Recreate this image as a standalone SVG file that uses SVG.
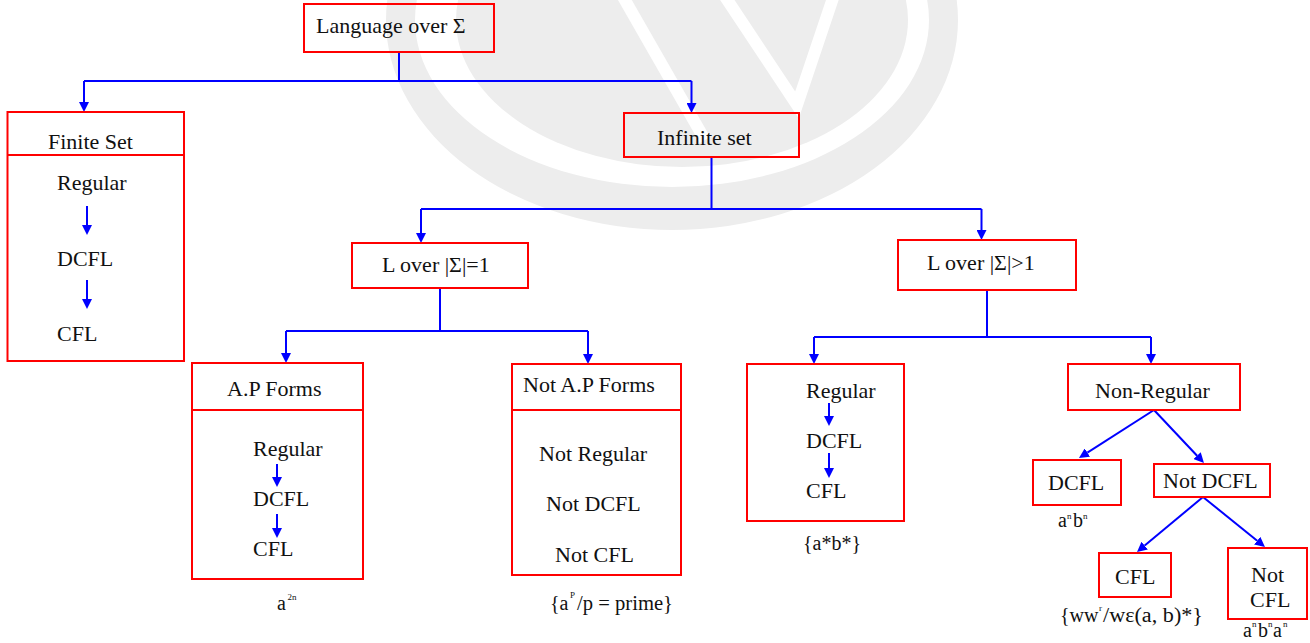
<svg xmlns="http://www.w3.org/2000/svg" width="1310" height="643" viewBox="0 0 1310 643">
  <defs>
    <style>
      .box { fill: none; stroke: #ff0000; stroke-width: 2; }
      text { fill: #111; }
      .s { font-size: 20px; }
      .sup { font-size: 9px; }
      .wire { fill: none; stroke: #0000ff; stroke-width: 2; }
      .arr { fill: none; stroke: #0000ff; stroke-width: 2; marker-end: url(#ah); }
      .wm { fill: #ededed; }
    </style>
    <marker id="ah" viewBox="0 0 10 10" refX="0" refY="5" markerWidth="10" markerHeight="10" markerUnits="userSpaceOnUse" orient="auto">
      <path d="M0,0 L10,5 L0,10 z" fill="#0000ff"/>
    </marker>
    <clipPath id="wmclip">
      <rect x="0" y="0" width="958" height="643"/>
    </clipPath>
  </defs>

  <rect width="1310" height="643" fill="#ffffff"/>

  <!-- background logo: ring, inner disc and W counters -->
  <g id="logo" clip-path="url(#wmclip)">
    <path class="wm" fill-rule="evenodd" d="M386,20 a286,210 0 1,0 572,0 a286,210 0 1,0 -572,0 z M415,20 a257,167 0 1,0 514,0 a257,167 0 1,0 -514,0 z"/>
    <ellipse class="wm" cx="682" cy="20" rx="226" ry="147"/>
    <g stroke="#ffffff" stroke-width="12" fill="none" stroke-linejoin="miter">
      <path d="M622,-5 L705,140"/>
      <path d="M724,-5 L797,105 L834,-5"/>
    </g>
  </g>

  <!-- connectors -->
  <g id="connectors">
    <path class="wire" d="M399,52 V81 M84,81 H691.5"/>
    <path class="arr" d="M84,81 V102"/>
    <path class="arr" d="M691.5,81 V103"/>

    <path class="wire" d="M711.5,157 V209 M421,209 H981.5"/>
    <path class="arr" d="M421,209 V233"/>
    <path class="arr" d="M981.5,209 V230"/>

    <path class="wire" d="M440,288 V331 M286,331 H588"/>
    <path class="arr" d="M286,331 V353"/>
    <path class="arr" d="M588,331 V354"/>

    <path class="wire" d="M987,290 V337 M814,337 H1151"/>
    <path class="arr" d="M814,337 V354"/>
    <path class="arr" d="M1151,337 V354"/>

    <path class="arr" d="M1154,410 L1087.4,452.6"/>
    <path class="arr" d="M1154,410 L1197.1,455.7"/>
    <path class="arr" d="M1203,497 L1144.7,545.6"/>
    <path class="arr" d="M1203,497 L1257.2,540.7"/>

    <!-- inclusion arrows inside boxes -->
    <path class="arr" d="M87,206 V225"/>
    <path class="arr" d="M87,280 V299"/>
    <path class="arr" d="M277,464 V477"/>
    <path class="arr" d="M277,514 V528"/>
    <path class="arr" d="M829,403 V416"/>
    <path class="arr" d="M829,453 V468"/>
  </g>

  <g id="nodes" font-family="'Liberation Serif', 'DejaVu Serif', serif" font-size="22">
  <g id="language">
    <rect class="box" x="304" y="4" width="190" height="48"/>
    <text x="316" y="33">Language over Σ</text>
  </g>

  <g id="finite-set">
    <rect class="box" x="7.5" y="112" width="176.5" height="249"/>
    <line class="box" x1="7.5" y1="155" x2="184" y2="155"/>
    <text x="48" y="149">Finite Set</text>
    <text x="57" y="190">Regular</text>
    <text x="57" y="266">DCFL</text>
    <text x="57" y="341">CFL</text>
  </g>

  <g id="infinite-set">
    <rect class="box" x="624" y="113" width="175" height="44"/>
    <text x="657" y="145">Infinite set</text>
  </g>

  <g id="unary">
    <rect class="box" x="352" y="243" width="176" height="45"/>
    <text x="382" y="272">L over |Σ|=1</text>
  </g>

  <g id="multi">
    <rect class="box" x="898" y="240" width="178" height="50"/>
    <text x="927" y="270">L over |Σ|&gt;1</text>
  </g>

  <g id="ap-forms">
    <rect class="box" x="192" y="363" width="171" height="216"/>
    <line class="box" x1="192" y1="410" x2="363" y2="410"/>
    <text x="227" y="396">A.P Forms</text>
    <text x="253" y="456">Regular</text>
    <text x="253" y="506">DCFL</text>
    <text x="253" y="556">CFL</text>
    <text class="s" x="277" y="610">a</text>
    <text class="sup" x="287.5" y="600">2n</text>
  </g>

  <g id="not-ap-forms">
    <rect class="box" x="512" y="364" width="169" height="211"/>
    <line class="box" x1="512" y1="410" x2="681" y2="410"/>
    <text x="523" y="392">Not A.P Forms</text>
    <text x="539" y="461">Not Regular</text>
    <text x="546" y="511">Not DCFL</text>
    <text x="555" y="562">Not CFL</text>
    <text class="s" x="550" y="610">{a</text>
    <text class="sup" x="570" y="598">P</text>
    <text class="s" x="577" y="610" textLength="96" lengthAdjust="spacingAndGlyphs">/p = prime}</text>
  </g>

  <g id="regular-multi">
    <rect class="box" x="747" y="364" width="157" height="157"/>
    <text x="806" y="398">Regular</text>
    <text x="806" y="448">DCFL</text>
    <text x="806" y="498">CFL</text>
    <text class="s" x="803" y="550">{a*b*}</text>
  </g>

  <g id="non-regular">
    <rect class="box" x="1068" y="364" width="172" height="46"/>
    <text x="1095" y="398">Non-Regular</text>
  </g>

  <g id="dcfl">
    <rect class="box" x="1033" y="460" width="88" height="45"/>
    <text x="1048" y="490">DCFL</text>
    <text class="s" x="1058" y="527">a</text>
    <text class="sup" x="1067" y="519">n</text>
    <text class="s" x="1073" y="527">b</text>
    <text class="sup" x="1083" y="519">n</text>
  </g>

  <g id="not-dcfl">
    <rect class="box" x="1154" y="464" width="116" height="33"/>
    <text x="1163" y="488">Not DCFL</text>
  </g>

  <g id="cfl">
    <rect class="box" x="1099" y="553" width="72" height="44"/>
    <text x="1115" y="584">CFL</text>
    <text class="s" x="1060" y="622">{ww</text>
    <text class="sup" x="1099" y="611">r</text>
    <text class="s" x="1103" y="622" textLength="100" lengthAdjust="spacingAndGlyphs">/wε(a, b)*}</text>
  </g>

  <g id="not-cfl">
    <rect class="box" x="1228" y="548" width="79" height="71"/>
    <text x="1251" y="582">Not</text>
    <text x="1250" y="607">CFL</text>
    <text class="s" x="1243" y="637">a</text>
    <text class="sup" x="1252" y="627">n</text>
    <text class="s" x="1258" y="637">b</text>
    <text class="sup" x="1268" y="627">n</text>
    <text class="s" x="1273" y="637">a</text>
    <text class="sup" x="1283" y="627">n</text>
  </g>
  </g>
</svg>
